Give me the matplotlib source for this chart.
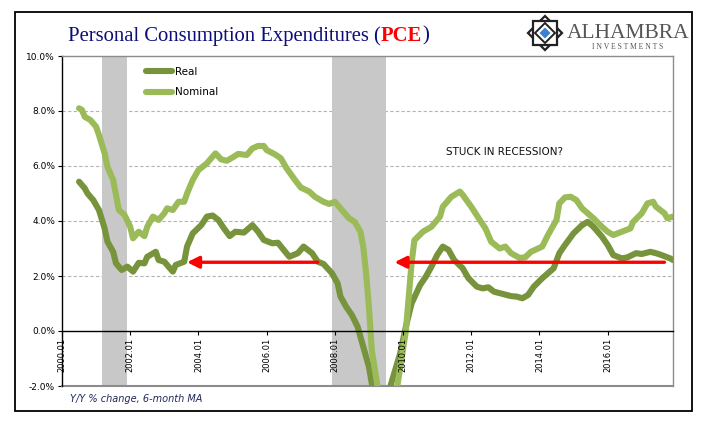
import numpy as np
import pandas as pd
import matplotlib
matplotlib.use("Agg")
import matplotlib.pyplot as plt
from matplotlib.patches import Rectangle, Polygon

# Y/Y % change, 6-month MA
nominal_dates = ["2000-07", "2000-08", "2000-09", "2000-11", "2001-01", "2001-02", "2001-04", "2001-05",
                 "2001-07", "2001-08", "2001-09", "2001-11", "2002-01", "2002-02", "2002-04", "2002-06",
                 "2002-07", "2002-09", "2002-11", "2003-01", "2003-02", "2003-04", "2003-06", "2003-08",
                 "2003-09", "2003-11", "2004-01", "2004-04", "2004-05", "2004-07", "2004-09", "2004-11",
                 "2005-01", "2005-03", "2005-06", "2005-08", "2005-10", "2005-12", "2006-01", "2006-04",
                 "2006-06", "2006-08", "2006-11", "2007-01", "2007-04", "2007-06", "2007-09", "2007-11",
                 "2008-01", "2008-03", "2008-06", "2008-08", "2008-10", "2008-11", "2008-12", "2009-01",
                 "2009-02", "2009-04", "2009-06", "2009-09", "2009-11", "2010-02", "2010-04", "2010-05",
                 "2010-08", "2010-11", "2011-02", "2011-03", "2011-06", "2011-09", "2011-10", "2012-01",
                 "2012-04", "2012-06", "2012-08", "2012-11", "2013-01", "2013-03", "2013-06", "2013-08",
                 "2013-10", "2014-02", "2014-04", "2014-07", "2014-08", "2014-10", "2014-12", "2015-02",
                 "2015-04", "2015-06", "2015-08", "2015-11", "2016-01", "2016-03", "2016-06", "2016-09",
                 "2016-10", "2017-01", "2017-03", "2017-05", "2017-06", "2017-09", "2017-10", "2017-12"]
nominal_values = [8.10, 8.04, 7.79, 7.67, 7.43, 7.13, 6.46, 5.97,
                  5.49, 4.95, 4.40, 4.22, 3.79, 3.37, 3.61, 3.45,
                  3.79, 4.16, 4.04, 4.28, 4.46, 4.40, 4.70, 4.70,
                  5.00, 5.49, 5.85, 6.10, 6.22, 6.46, 6.24, 6.19,
                  6.31, 6.44, 6.40, 6.64, 6.73, 6.73, 6.58, 6.42,
                  6.28, 5.92, 5.49, 5.22, 5.07, 4.88, 4.70, 4.62,
                  4.70, 4.46, 4.10, 3.97, 3.61, 3.07, 2.10, 0.88,
                  -0.69, -2.00, -3.00, -3.00, -2.00, 0.00, 2.46, 3.30,
                  3.61, 3.79, 4.16, 4.52, 4.88, 5.07, 4.95, 4.52,
                  4.04, 3.73, 3.25, 3.00, 3.07, 2.83, 2.66, 2.68,
                  2.88, 3.07, 3.49, 4.04, 4.64, 4.86, 4.88, 4.76,
                  4.46, 4.28, 4.10, 3.79, 3.61, 3.49, 3.61, 3.73,
                  3.97, 4.28, 4.64, 4.70, 4.52, 4.28, 4.10, 4.16]

real_dates = ["2000-07", "2000-09", "2000-10", "2000-12", "2001-02", "2001-04", "2001-05", "2001-07",
              "2001-08", "2001-10", "2001-12", "2002-02", "2002-04", "2002-06", "2002-07", "2002-10",
              "2002-11", "2003-01", "2003-04", "2003-05", "2003-08", "2003-09", "2003-11", "2004-02",
              "2004-04", "2004-06", "2004-08", "2004-10", "2004-12", "2005-02", "2005-05", "2005-08",
              "2005-10", "2005-12", "2006-03", "2006-05", "2006-07", "2006-09", "2006-12", "2007-02",
              "2007-05", "2007-07", "2007-09", "2007-12", "2008-02", "2008-03", "2008-05", "2008-07",
              "2008-09", "2008-11", "2009-01", "2009-02", "2009-03", "2009-05", "2009-07", "2009-08",
              "2009-12", "2010-02", "2010-04", "2010-07", "2010-09", "2010-11", "2011-01", "2011-03",
              "2011-05", "2011-07", "2011-10", "2011-12", "2012-03", "2012-05", "2012-07", "2012-09",
              "2012-12", "2013-03", "2013-05", "2013-07", "2013-09", "2013-11", "2014-02", "2014-06",
              "2014-08", "2014-10", "2015-01", "2015-04", "2015-06", "2015-08", "2015-11", "2016-01",
              "2016-03", "2016-06", "2016-08", "2016-11", "2017-01", "2017-04", "2017-06", "2017-08",
              "2017-11", "2017-12"]
real_values = [5.43, 5.19, 5.00, 4.76, 4.40, 3.73, 3.25, 2.88,
               2.46, 2.22, 2.34, 2.16, 2.48, 2.46, 2.70, 2.88,
               2.58, 2.52, 2.16, 2.40, 2.52, 3.07, 3.55, 3.85,
               4.16, 4.20, 4.04, 3.73, 3.45, 3.61, 3.58, 3.85,
               3.61, 3.31, 3.19, 3.21, 2.95, 2.70, 2.83, 3.07,
               2.83, 2.52, 2.44, 2.10, 1.73, 1.25, 0.88, 0.58,
               0.16, -0.57, -1.30, -1.90, -2.20, -3.00, -3.00, -2.20,
               -0.81, 0.16, 1.00, 1.67, 1.97, 2.34, 2.76, 3.07,
               2.95, 2.58, 2.28, 1.92, 1.61, 1.55, 1.59, 1.43,
               1.35, 1.27, 1.25, 1.19, 1.31, 1.61, 1.92, 2.28,
               2.83, 3.13, 3.55, 3.85, 3.97, 3.79, 3.43, 3.13,
               2.76, 2.64, 2.68, 2.83, 2.80, 2.88, 2.83, 2.76,
               2.64, 2.58]

recessions = [("2001-03", "2001-12"), ("2007-12", "2009-07")]
tick_labels = ["2000.01", "2002.01", "2004.01", "2006.01", "2008.01",
               "2010.01", "2012.01", "2014.01", "2016.01"]
arrows = [("2007-07", "2003-09", 2.5), ("2017-09", "2009-10", 2.5)]  # tail, head, level


def month_index(s):
    # months since 2000.01
    d = pd.to_datetime(s.replace(".", "-"))
    return (d.year - 2000) * 12 + d.month - 1


real_x = [month_index(d) for d in real_dates]
nominal_x = [month_index(d) for d in nominal_dates]

REAL_C = "#77933C"
NOM_C = "#9BBB59"

W, H = 705, 421
fig = plt.figure(figsize=(W / 100, H / 100), dpi=100)
ax = fig.add_axes([62 / W, 1 - 386 / H, (673 - 62) / W, (386 - 56) / H])

# spine position first, it resets the ticks
ax.spines["bottom"].set_position(("data", 0))

for a, b in recessions:
    ax.axvspan(month_index(a), month_index(b), ymin=0, ymax=0.997, color="#C8C8C8", lw=0, zorder=1)

for yv in [2, 4, 6, 8]:
    ax.axhline(yv, color="#B4B4B4", lw=0.8, ls=(0, (3, 2)), zorder=0.5)
ax.axhline(-2, color="#8C8C8C", lw=1.5, zorder=3, clip_on=False)

ax.plot(real_x, real_values, color=REAL_C, lw=4.4, solid_joinstyle="round",
        solid_capstyle="round", label="Real", zorder=4)
ax.plot(nominal_x, nominal_values, color=NOM_C, lw=4.4, solid_joinstyle="round",
        solid_capstyle="round", label="Nominal", zorder=4)

for tail, head, lev in arrows:
    ax.annotate("", xy=(month_index(head), lev), xytext=(month_index(tail), lev),
                arrowprops=dict(arrowstyle="-|>,head_length=0.7,head_width=0.35", color="red",
                                lw=2.4, shrinkA=0, shrinkB=0), zorder=6)

ax.text(month_index("2011-04"), 6.5, "STUCK IN RECESSION?", fontsize=7.5, va="center",
        ha="left", color="#111111")

ax.set_xlim(0, 215)
ax.set_ylim(-2, 10)
ax.set_yticks(np.arange(-2, 10.1, 2))
ax.set_yticklabels([f"{v:.1f}%" for v in np.arange(-2, 10.1, 2)])
ax.set_xticks([month_index(t) for t in tick_labels])
ax.set_xticklabels(tick_labels, rotation=90)
ax.tick_params(axis="y", labelsize=6.5, length=3, width=0.8, pad=2, direction="out")
ax.tick_params(axis="x", labelsize=6, length=3, width=0.8, pad=2, direction="out")
ax.xaxis.set_zorder(6)  # date labels sit on top of the lines

ax.spines["bottom"].set_linewidth(1.0)
ax.spines["left"].set_linewidth(1.0)
ax.spines["top"].set_color("#8C8C8C")
ax.spines["right"].set_color("#8C8C8C")
ax.spines["top"].set_linewidth(1.0)
ax.spines["right"].set_linewidth(1.0)
for s in ax.spines.values():
    s.set_zorder(5)

ax.legend(loc="upper left", bbox_to_anchor=(146 / W, 1 - 67 / H), bbox_transform=fig.transFigure,
          frameon=False, fontsize=7.5, handlelength=2.5, handletextpad=0.3, labelspacing=1.0,
          borderpad=0, borderaxespad=0)

# title with red PCE
r = fig.canvas.get_renderer()
ty = 1 - 36 / H
x0 = 68 / W
parts = [("Personal Consumption Expenditures (", "#0C0C7A", "normal"),
         ("PCE", "#FF0000", "bold"),
         (")", "#0C0C7A", "normal")]
for txt, col, wt in parts:
    t = fig.text(x0, ty, txt, color=col, fontweight=wt, fontsize=14.9,
                 family="Liberation Serif", va="center", ha="left")
    bb = t.get_window_extent(renderer=r)
    x0 = bb.x1 / W

fig.text(70 / W, 1 - 399 / H, "Y/Y % change, 6-month MA", fontsize=7, style="italic",
         color="#1F2A5A", va="center", ha="left")

# figure border
fig.patches.append(Rectangle((15 / W, 1 - 411 / H), (692 - 15) / W, (411 - 12) / H,
                             transform=fig.transFigure, fill=False, ec="black", lw=1.3))


# logo
def px(x, y):
    return (x / W, 1 - y / H)


cx, cy = 545, 33
star1 = [px(cx, cy - 17), px(cx + 17, cy), px(cx, cy + 17), px(cx - 17, cy)]
star2 = [px(cx - 12, cy - 12), px(cx + 12, cy - 12), px(cx + 12, cy + 12), px(cx - 12, cy + 12)]
for pts in (star1, star2):
    fig.patches.append(Polygon(pts, closed=True, transform=fig.transFigure,
                               fc="white", ec="#222222", lw=1.6))
inner = [px(cx, cy - 10), px(cx + 10, cy), px(cx, cy + 10), px(cx - 10, cy)]
fig.patches.append(Polygon(inner, closed=True, transform=fig.transFigure,
                           fc="none", ec="#222222", lw=1.4))
blue = [px(cx, cy - 5), px(cx + 5, cy), px(cx, cy + 5), px(cx - 5, cy)]
fig.patches.append(Polygon(blue, closed=True, transform=fig.transFigure,
                           fc="#3F7FD0", ec="#3F7FD0", lw=0.5))

fig.text(567 / W, 1 - 33 / H, "ALHAMBRA", fontsize=15.5, family="Liberation Serif",
         color="#555555", va="center", ha="left")
fig.text(628 / W, 1 - 47 / H, "I N V E S T M E N T S", fontsize=5.5, family="Liberation Serif",
         color="#555555", va="center", ha="center")

fig.savefig("out.png", dpi=100)
